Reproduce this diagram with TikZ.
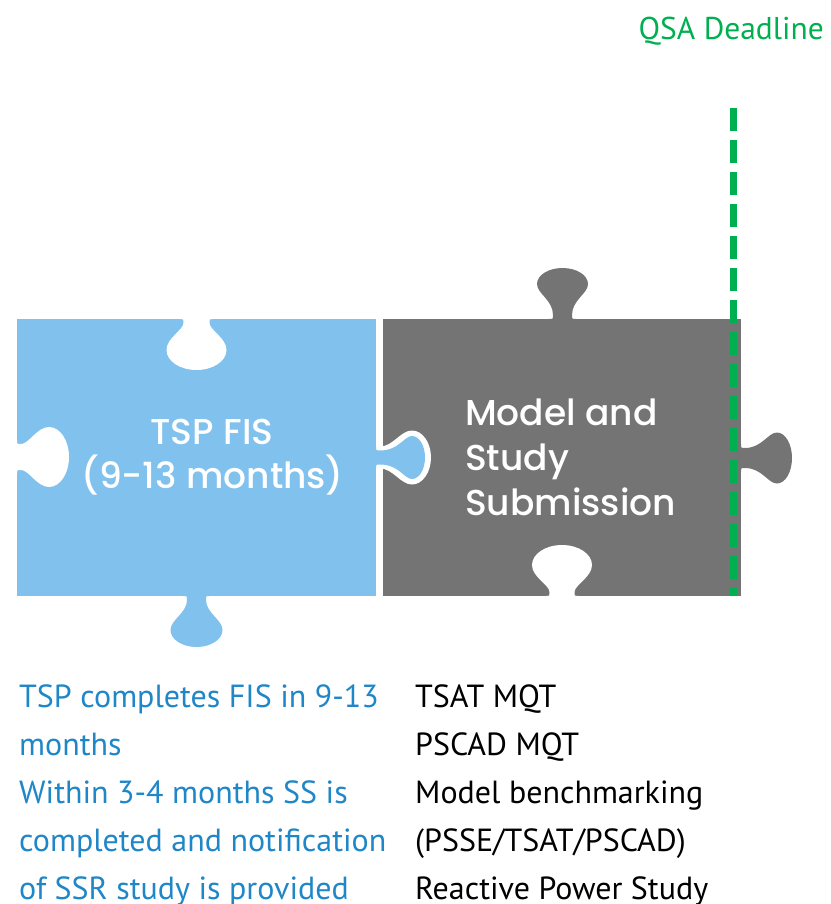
\documentclass[tikz,border=0pt]{standalone}
\usepackage{fontspec}
\setmainfont{PT Sans}
\newfontfamily\popfont{Poppins Medium}
\definecolor{pzblue}{RGB}{128,193,237}
\definecolor{pzgray}{RGB}{116,116,116}
\definecolor{txblue}{RGB}{31,134,199}
\definecolor{qsagreen}{RGB}{0,176,80}
\newcommand\pzshape[4]{%
 (-#1-4,-2) -- (-#1-4,0) .. controls (-#1,0) .. (-#1,4)
 .. controls (-#1,#2-#4) and (-#3,#2-0.6*#4) .. (-#3,#2)
 .. controls (-#3,#2+0.5523*#4) and (-0.5523*#3,#2+#4) .. (0,#2+#4)
 .. controls (0.5523*#3,#2+#4) and (#3,#2+0.5523*#4) .. (#3,#2)
 .. controls (#3,#2-0.6*#4) and (#1,#2-#4) .. (#1,4)
 .. controls (#1,0) .. (#1+4,0) -- (#1+4,-2) -- cycle}
\tikzset{
  pztitle/.style={font=\popfont\fontsize{36}{44}\selectfont, text=white, inner sep=0pt},
  coltext/.style={font=\fontsize{32}{48}\selectfont, inner sep=0pt, anchor=base west},
}
\begin{document}
\begin{tikzpicture}[x=1pt,y=-1pt]
\useasboundingbox (0,0) rectangle (830,904);
% gray piece
\fill[pzgray] (383,319) rectangle (741,596);
\fill[pzgray, shift={(562.5,319)}, rotate=180] \pzshape{9.5}{35}{25.5}{16};
\fill[pzgray, shift={(741,458)}, rotate=90] \pzshape{10}{36}{25.5}{15};
\fill[white, shift={(562,596)}, rotate=180] \pzshape{12.5}{31}{30}{20};
\fill[white, shift={(376,457.5)}, rotate=90] \pzshape{11}{36}{27}{19};
% blue piece
\fill[pzblue] (17,319) rectangle (376,596);
\fill[pzblue, shift={(196.5,596)}, rotate=0] \pzshape{9.5}{34}{26}{17};
\fill[pzblue, shift={(376,457.5)}, rotate=90] \pzshape{7}{36}{21.5}{13};
\fill[white, shift={(196.5,319)}, rotate=0] \pzshape{13}{31}{30}{20};
\fill[white, shift={(17,457)}, rotate=90] \pzshape{13}{32}{30}{20};
% deadline
\draw[qsagreen, line width=7pt, dash pattern=on 23pt off 9pt] (733,108) -- (733,596);
\node[font=\fontsize{31.5}{36}\selectfont, text=qsagreen, anchor=base east, inner sep=0pt] (qsa) at (824,40) {QSA Deadline};
% titles
\node[pztitle, anchor=base] (b1) at (212,444) {TSP FIS};
\node[pztitle, anchor=base] (b2) at (212.5,488) {(9-13 months)};
\node[pztitle, anchor=base west] (g1) at (465,425) {Model and};
\node[pztitle, anchor=base west] (g2) at (465,470) {Study};
\node[pztitle, anchor=base west] (g3) at (465,515) {Submission};
% left column
\node[coltext, text=txblue] (l1) at (19,707) {TSP completes FIS in 9-13};
\node[coltext, text=txblue] (l2) at (19,755) {months};
\node[coltext, text=txblue] (l3) at (19,803) {Within 3-4 months SS is};
\node[coltext, text=txblue] (l4) at (19,851) {completed and notification};
\node[coltext, text=txblue] (l5) at (19,899) {of SSR study is provided};
% right column
\node[coltext, text=black] (r1) at (415,707) {TSAT MQT};
\node[coltext, text=black] (r2) at (415,755) {PSCAD MQT};
\node[coltext, text=black] (r3) at (415,803) {Model benchmarking};
\node[coltext, text=black] (r4) at (415,851) {(PSSE/TSAT/PSCAD)};
\node[coltext, text=black] (r5) at (415,899) {Reactive Power Study};
\end{tikzpicture}
\end{document}
